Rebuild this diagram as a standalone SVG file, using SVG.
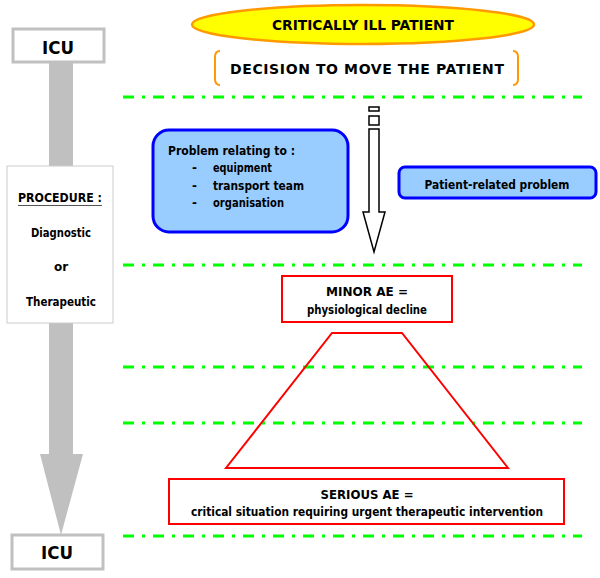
<svg xmlns="http://www.w3.org/2000/svg" width="600" height="578" viewBox="0 0 600 578">
<style>
text{font-family:"DejaVu Sans","Liberation Sans",sans-serif;font-weight:bold;fill:#000}
.sep{stroke:#00FF00;stroke-width:3;stroke-dasharray:11 8 3 8;fill:none}
.icu{fill:#fff;stroke:#C0C0C0;stroke-width:3}
.red{fill:#fff;stroke:#FF0000;stroke-width:2}
.blue{fill:#99CCFF;stroke:#0000FF;stroke-width:3}
</style>
<rect width="600" height="578" fill="#fff"/>
<g id="separators">
<line class="sep" x1="123" y1="97" x2="582" y2="97"/>
<line class="sep" x1="123" y1="265" x2="582" y2="265"/>
<line class="sep" x1="123" y1="367" x2="582" y2="367"/>
<line class="sep" x1="123" y1="423" x2="582" y2="423"/>
<line class="sep" x1="123" y1="536" x2="582" y2="536"/>
</g>
<g id="connectors">
<path d="M49,62 H73 V454 H83 L61,535 L40,454 H49 Z" fill="#C0C0C0"/>
<rect x="369" y="107" width="10" height="4" fill="#fff" stroke="#000" stroke-width="1.5"/>
<rect x="369" y="116" width="10" height="9" fill="#fff" stroke="#000" stroke-width="1.5"/>
<path d="M369,129 H379 V212 H385 L374,252 L363,212 H369 Z" fill="#fff" stroke="#000" stroke-width="1.5"/>
<path d="M332,333 H402 L508,468 H226 Z" fill="none" stroke="#FF0000" stroke-width="2"/>
</g>
<g id="icu-top">
<rect class="icu" x="13" y="29" width="91" height="33"/>
<text x="58" y="54" font-size="17" text-anchor="middle" textLength="32" lengthAdjust="spacingAndGlyphs">ICU</text>
</g>
<g id="icu-bottom">
<rect class="icu" x="12" y="535" width="91" height="34"/>
<text x="57" y="559" font-size="17" text-anchor="middle" textLength="32" lengthAdjust="spacingAndGlyphs">ICU</text>
</g>
<g id="procedure">
<rect x="7" y="166" width="106" height="157" fill="#fff" stroke="#CCCCCC" stroke-width="1"/>
<text x="60" y="202" font-size="13" text-anchor="middle" textLength="84" lengthAdjust="spacingAndGlyphs">PROCEDURE :</text>
<line x1="18" y1="205.5" x2="102" y2="205.5" stroke="#555" stroke-width="1.2"/>
<text x="61" y="237" font-size="12" text-anchor="middle" textLength="60" lengthAdjust="spacingAndGlyphs">Diagnostic</text>
<text x="61" y="271" font-size="12" text-anchor="middle">or</text>
<text x="61" y="306" font-size="12" text-anchor="middle" textLength="70" lengthAdjust="spacingAndGlyphs">Therapeutic</text>
</g>
<g id="critically-ill">
<ellipse cx="363" cy="24.5" rx="171" ry="19.5" fill="#FFFF00" stroke="#FF9900" stroke-width="2.5"/>
<text x="363" y="30" font-size="14" text-anchor="middle" textLength="182" lengthAdjust="spacingAndGlyphs">CRITICALLY ILL PATIENT</text>
</g>
<g id="decision">
<path d="M220,51 Q215,51 215,57 V79 Q215,85 220,85" fill="none" stroke="#FF9900" stroke-width="2"/>
<path d="M513,51 Q518,51 518,57 V79 Q518,85 513,85" fill="none" stroke="#FF9900" stroke-width="2"/>
<text x="367" y="74" font-size="14" text-anchor="middle" textLength="274" lengthAdjust="spacing">DECISION TO MOVE THE PATIENT</text>
</g>
<g id="problem-relating">
<rect class="blue" x="153" y="130" width="195" height="102" rx="16"/>
<text x="168" y="155" font-size="12" textLength="127" lengthAdjust="spacingAndGlyphs">Problem relating to :</text>
<text x="192" y="172" font-size="12">-</text>
<text x="213" y="172" font-size="12" textLength="59" lengthAdjust="spacingAndGlyphs">equipment</text>
<text x="192" y="190" font-size="12">-</text>
<text x="213" y="190" font-size="12" textLength="91" lengthAdjust="spacingAndGlyphs">transport team</text>
<text x="192" y="207" font-size="12">-</text>
<text x="213" y="207" font-size="12" textLength="71" lengthAdjust="spacingAndGlyphs">organisation</text>
</g>
<g id="patient-related">
<rect class="blue" x="399" y="167" width="197" height="31" rx="6"/>
<text x="497" y="189" font-size="12" text-anchor="middle" textLength="145" lengthAdjust="spacingAndGlyphs">Patient-related problem</text>
</g>
<g id="minor-ae">
<rect class="red" x="282" y="276" width="170" height="46"/>
<text x="367" y="296" font-size="12" text-anchor="middle" textLength="82" lengthAdjust="spacingAndGlyphs">MINOR AE =</text>
<text x="367" y="314" font-size="12" text-anchor="middle" textLength="120" lengthAdjust="spacingAndGlyphs">physiological decline</text>
</g>
<g id="serious-ae">
<rect class="red" x="169" y="479" width="395" height="45"/>
<text x="367" y="499" font-size="12" text-anchor="middle" textLength="93" lengthAdjust="spacingAndGlyphs">SERIOUS AE =</text>
<text x="367" y="516" font-size="12" text-anchor="middle" textLength="352" lengthAdjust="spacingAndGlyphs">critical situation requiring urgent therapeutic intervention</text>
</g>
</svg>
